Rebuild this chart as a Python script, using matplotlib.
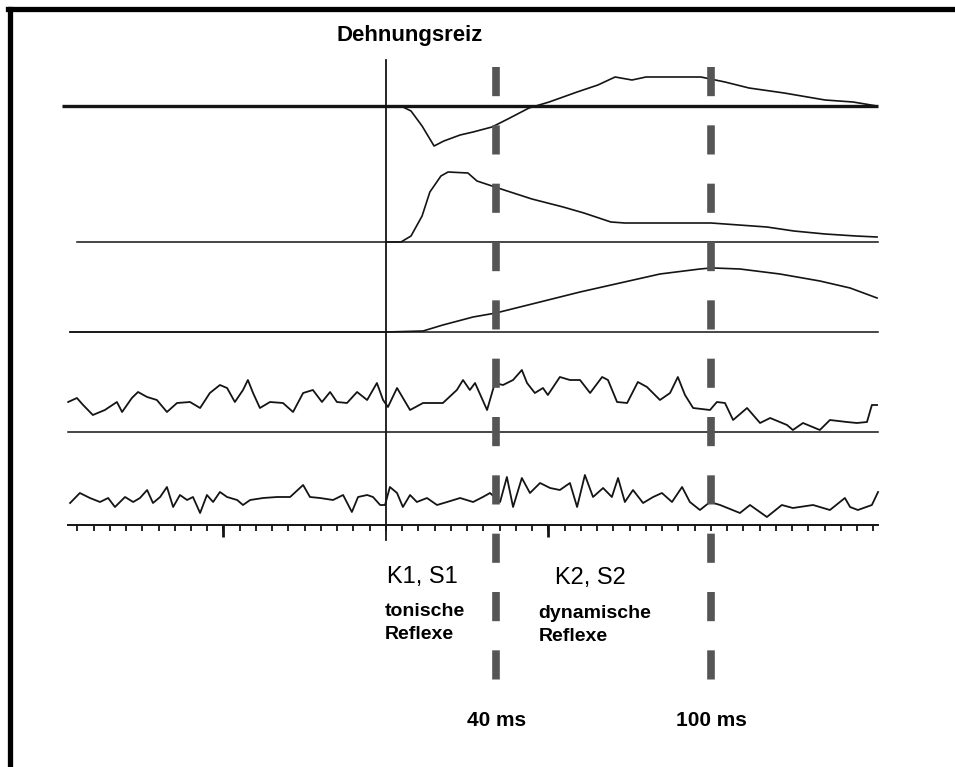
import matplotlib
matplotlib.use("Agg")
import matplotlib.pyplot as plt
from matplotlib.lines import Line2D
import numpy as np

plt.rcParams['font.family'] = ['Liberation Sans', 'DejaVu Sans']
plt.rcParams['lines.scale_dashes'] = False

# time in ms relative to the stretch stimulus, amplitudes in arbitrary units
# trace 1 (muscle length / position)
t1 = [0, 4.6, 7.7, 11.1, 14.8, 17.8, 22.8, 26.8, 32.6, 37.5, 44.0, 50.2, 58.8,
      65.2, 70.5, 75.7, 80.0, 96.9, 104.3, 111.7, 122.5, 135.1, 143.7, 151.1]
a1 = [0, 0, -5, -20, -40, -35, -29, -26, -21, -13, -2, 4, 14,
      21, 29, 26, 29, 29, 24, 18, 13, 6, 4, 0]

# trace 2 (velocity)
t2 = [0, 4.6, 7.7, 11.1, 13.5, 16.9, 19.1, 25.2, 28.0, 35.4, 44.9, 54.5, 60.9,
      69.2, 73.5, 100.0, 117.2, 125.5, 135.1, 144.6, 151.1]
a2 = [0, 0, 6, 26, 50, 66, 70, 69, 61, 53, 43, 35, 29,
      20, 19, 19, 15, 11, 8, 6, 5]

# trace 3 (force)
t3 = [-97.2, 0, 11.4, 17.5, 26.8, 33.8, 47.4, 59.7, 72.0, 84.3, 96.6, 100.0,
      100.4, 100.9, 108.9, 121.2, 133.5, 142.8, 151.1]
a3 = [0, 0, 1, 7, 15, 19, 30, 40, 49, 58, 63, 64, 70, 64, 63, 58, 51, 44, 34]

# trace 4 (EMG 1)
t4 = [-97.8, -95.1, -93.2, -90.2, -86.5, -82.8, -81.2, -78.2, -76.3, -73.5, -70.5,
      -67.4, -64.3, -60.3, -57.2, -54.2, -51.1, -48.9, -46.5, -44.0, -42.5, -40.9,
      -38.8, -35.7, -31.7, -28.6, -25.5, -22.5, -19.7, -17.2, -15.1, -12.0, -8.9,
      -5.8, -2.8, -0.9, 0.6, 3.4, 7.4, 11.4, 17.5, 21.8, 23.7, 25.8, 27.4, 31.1,
      33.5, 36.0, 39.1, 41.8, 43.4, 45.8, 48.3, 49.8, 53.5, 56.6, 59.7, 62.8, 66.5,
      68.3, 71.1, 74.2, 77.5, 80.3, 84.3, 87.4, 89.8, 92.0, 94.5, 99.7, 101.8,
      104.3, 106.8, 111.1, 115.1, 118.2, 123.4, 125.2, 128.3, 133.5, 136.6, 141.8,
      144.9, 148.0, 149.5, 151.1]
a4 = [30, 34, 27, 17, 22, 30, 20, 34, 40, 35, 32,
      20, 29, 30, 24, 39, 47, 44, 30, 42, 52, 39,
      24, 30, 29, 20, 39, 42, 30, 40, 30, 29, 40,
      32, 49, 32, 25, 44, 22, 29, 29, 42, 52, 42, 49, 22,
      49, 47, 52, 62, 49, 39, 44, 37, 55, 52, 52, 39, 55,
      52, 30, 29, 50, 45, 32, 39, 55, 37, 24, 22, 30,
      29, 12, 24, 9, 14, 7, 2, 9, 2, 12, 10,
      9, 10, 27, 27]

# trace 5 (EMG 2)
t5 = [-97.2, -94.2, -91.1, -88.0, -85.5, -83.4, -80.3, -77.8, -75.7, -73.5, -71.7,
      -69.5, -67.4, -65.5, -63.4, -61.2, -59.4, -57.2, -55.1, -53.2, -51.1, -48.9,
      -45.8, -44.0, -41.8, -37.8, -33.5, -29.5, -25.5, -23.4, -20.3, -16.3, -13.2,
      -10.5, -8.6, -5.8, -4.0, -1.8, -0.3, 1.2, 3.4, 5.2, 7.4, 9.5, 12.6, 15.7,
      18.8, 22.8, 26.8, 29.8, 32.0, 35.1, 37.2, 39.1, 41.8, 44.3, 47.4, 50.5, 53.5,
      56.6, 58.8, 61.2, 63.7, 66.8, 69.5, 71.4, 73.5, 76.0, 79.1, 82.2, 84.9, 88.0,
      91.1, 93.5, 96.6, 99.7, 102.8, 108.9, 112.0, 117.2, 121.8, 125.2, 131.4,
      136.6, 141.2, 142.8, 145.2, 149.5, 151.4]
a5 = [22, 32, 27, 23, 27, 18, 28, 23, 27, 35, 22,
      28, 38, 18, 30, 25, 28, 12, 30, 23, 33, 28,
      25, 20, 25, 27, 28, 28, 40, 28, 27, 25, 30,
      13, 28, 30, 28, 20, 20, 38, 32, 18, 30, 23, 27, 20,
      23, 27, 23, 28, 32, 23, 48, 18, 47, 32, 42, 37, 35,
      42, 18, 50, 28, 37, 28, 47, 23, 35, 22, 28, 32, 23,
      38, 23, 15, 23, 20, 12, 20, 8, 20, 17, 20,
      15, 27, 18, 15, 20, 33]

marker_times = [34, 100]
marker_labels = ["40 ms", "100 ms"]

fig = plt.figure(figsize=(9.55, 7.67), dpi=100)
ax = fig.add_axes([0, 0, 1, 1])
ax.set_xlim(-118.77, 175.08)
ax.set_ylim(0, 767)
ax.axis('off')

ink = '#141414'
t_end = 151.3

# baselines (y offsets in pixel rows from bottom)
ax.plot([-99.7, t_end], [661, 661], color=ink, lw=2.4, solid_capstyle='butt')
ax.plot([-95.1, t_end], [525, 525], color=ink, lw=1.1)
ax.plot([-97.2, t_end], [435, 435], color=ink, lw=1.1)
ax.plot([-97.8, t_end], [335, 335], color=ink, lw=1.1)
ax.plot([-97.8, t_end], [242, 242], color=ink, lw=1.4)

# traces
ax.plot(t1, 661 + np.array(a1), color=ink, lw=1.2)
ax.plot(t2, 525 + np.array(a2), color=ink, lw=1.2)
ax.plot(t3, 435 + np.array(a3), color=ink, lw=1.2)
ax.plot(t4, 335 + np.array(a4), color=ink, lw=1.3)
ax.plot(t5, 242 + np.array(a5), color=ink, lw=1.3)

# time axis ticks
ticks = np.arange(-95, 151, 5)
ax.vlines(ticks, 236, 242, color=ink, lw=1.3)
ax.vlines([-50, 50], 230, 242, color=ink, lw=2.0)

# stimulus onset line
ax.plot([0, 0], [707, 227], color=ink, lw=1.3)

# dashed markers
for tm in marker_times:
    ax.plot([tm, tm], [700, 85], color='#555555', lw=5.5,
            dashes=(21, 21), solid_capstyle='butt', dash_capstyle='butt')

# text
ax.text(7.4, 732, "Dehnungsreiz", ha='center', va='center',
        fontsize=16, fontweight='bold')
ax.text(0.3, 190, "K1, S1", ha='left', va='center', fontsize=17)
ax.text(52, 189, "K2, S2", ha='left', va='center', fontsize=17)
ax.text(-0.3, 144, "tonische\nReflexe", ha='left', va='center',
        fontsize=14, fontweight='bold', linespacing=1.4)
ax.text(47, 142, "dynamische\nReflexe", ha='left', va='center',
        fontsize=14, fontweight='bold', linespacing=1.4)
for tm, lab in zip(marker_times, marker_labels):
    ax.text(tm, 47, lab, ha='center', va='center', fontsize=15, fontweight='bold')

# frame (left and top edges)
fig.add_artist(Line2D([10 / 955, 10 / 955], [0, 1 - 9 / 767], color='black', lw=3.8,
                      transform=fig.transFigure))
fig.add_artist(Line2D([8 / 955, 1], [1 - 9 / 767, 1 - 9 / 767], color='black', lw=3.8,
                      transform=fig.transFigure))

fig.savefig("out.png", dpi=100)
